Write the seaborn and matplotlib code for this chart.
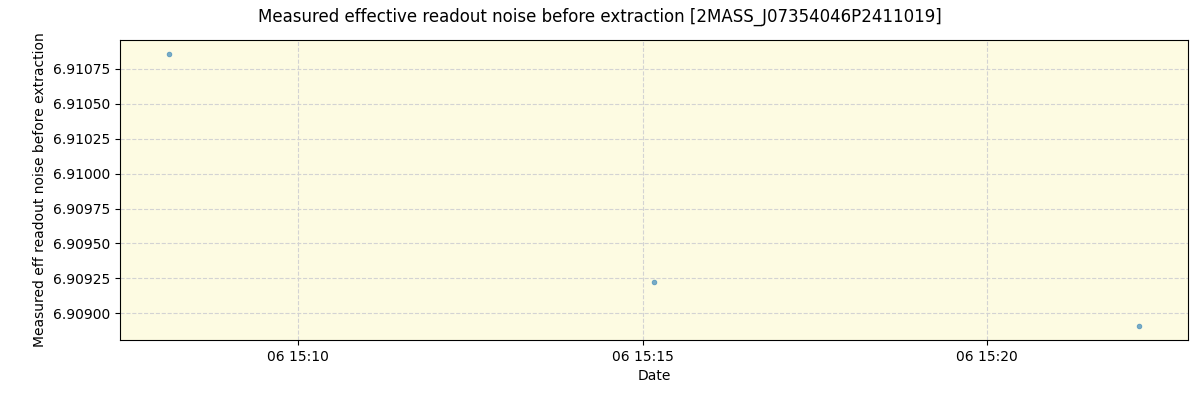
import pandas as pd
import matplotlib
matplotlib.use("Agg")
import matplotlib.pyplot as plt
import matplotlib.dates as mdates
import seaborn as sns

# 측정 시각과 값
times = ["2023-01-06 15:08:07", "2023-01-06 15:15:10", "2023-01-06 15:22:13"]
noise = [6.910858, 6.909222, 6.908907]

df = pd.DataFrame({"date": pd.to_datetime(times), "noise": noise})

fig, ax = plt.subplots(figsize=(12, 4), dpi=100)
ax.set_facecolor("#fdfbe2")

sns.scatterplot(data=df, x="date", y="noise", ax=ax, s=12,
                color="tab:blue", alpha=0.6, edgecolor="tab:blue", linewidth=0.5)

ax.grid(True, linestyle="--", color="lightgray", linewidth=0.8)
ax.set_axisbelow(True)
ax.xaxis.set_major_locator(mdates.MinuteLocator(byminute=[10, 15, 20]))
ax.xaxis.set_major_formatter(mdates.DateFormatter("%d %H:%M"))
ax.yaxis.set_major_formatter(matplotlib.ticker.FormatStrFormatter("%.5f"))

ax.set_xlabel("Date")
ax.set_ylabel("Measured eff readout noise before extraction")
fig.suptitle("Measured effective readout noise before extraction [2MASS_J07354046P2411019]")
fig.subplots_adjust(left=0.1, right=0.99, top=0.9, bottom=0.15)
fig.savefig("out.png", dpi=100)
